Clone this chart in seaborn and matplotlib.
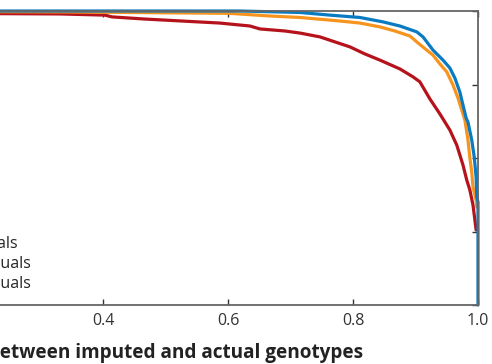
import pandas as pd
import matplotlib
matplotlib.use("Agg")
import matplotlib.pyplot as plt
import seaborn as sns

# curve data (x = r2 threshold, y = fraction)
red_x = [0.0, 0.10, 0.235, 0.331, 0.403, 0.414, 0.464, 0.587, 0.635, 0.651, 0.691, 0.715,
         0.747, 0.771, 0.795, 0.819, 0.843, 0.875, 0.896, 0.907, 0.923, 0.939, 0.955,
         0.966, 0.976, 0.982, 0.987, 0.992, 0.995, 0.997]
red_y = [0.995, 0.993, 0.991, 0.990, 0.986, 0.980, 0.973, 0.959, 0.949, 0.939, 0.932, 0.925,
         0.912, 0.895, 0.878, 0.854, 0.833, 0.803, 0.776, 0.759, 0.701, 0.650, 0.595,
         0.544, 0.476, 0.425, 0.391, 0.340, 0.289, 0.255]

orange_x = [0.0, 0.331, 0.603, 0.667, 0.715, 0.779, 0.811, 0.843, 0.867, 0.891, 0.902,
            0.918, 0.928, 0.939, 0.950, 0.960, 0.968, 0.974, 0.979, 0.984, 0.987, 0.990,
            0.992, 0.997, 0.998]
orange_y = [0.999, 0.997, 0.992, 0.983, 0.978, 0.966, 0.959, 0.946, 0.932, 0.915, 0.895,
            0.867, 0.850, 0.820, 0.793, 0.748, 0.704, 0.663, 0.629, 0.561, 0.500, 0.452,
            0.401, 0.357, 0.333]

blue_x = [0.0, 0.451, 0.619, 0.715, 0.763, 0.811, 0.848, 0.875, 0.902, 0.912, 0.928,
          0.944, 0.955, 0.963, 0.971, 0.976, 0.981, 0.984, 0.990, 0.994, 0.997, 0.998,
          1.0, 1.0]
blue_y = [1.0, 1.0, 1.0, 0.995, 0.986, 0.978, 0.963, 0.949, 0.929, 0.912, 0.867,
          0.833, 0.806, 0.772, 0.724, 0.680, 0.636, 0.622, 0.561, 0.503, 0.435, 0.367,
          0.350, 0.0]

labels = ["100 individuals", "1,000 individuals", "5,000 individuals"]
colors = ["#b5121b", "#f7941d", "#0a7bc1"]

df = pd.concat([
    pd.DataFrame({"x": red_x, "y": red_y, "group": labels[0]}),
    pd.DataFrame({"x": orange_x, "y": orange_y, "group": labels[1]}),
    pd.DataFrame({"x": blue_x, "y": blue_y, "group": labels[2]}),
])

sns.set_style("ticks")
plt.rcParams["font.family"] = ["Open Sans", "DejaVu Sans"]

fig = plt.figure(figsize=(4.92, 3.64), dpi=100)
ax = fig.add_axes([-147 / 492, 59 / 364, 625 / 492, 294 / 364])

sns.lineplot(data=df, x="x", y="y", hue="group", palette=colors, sort=False,
             estimator=None, linewidth=2.3, ax=ax, clip_on=False)

ax.set_xlim(0, 1)
ax.set_ylim(0, 1)
ax.set_xticks([0, 0.2, 0.4, 0.6, 0.8, 1.0])
ax.set_xticklabels(["0", "0.2", "0.4", "0.6", "0.8", "1.0"])
ax.set_yticks([0, 0.25, 0.5, 0.75, 1.0])
ax.tick_params(direction="in", length=4, width=1, colors="#333333", labelsize=11.5,
               top=True, right=True, pad=6)
for s in ax.spines.values():
    s.set_color("#666666")
    s.set_linewidth(1.3)
    s.set_visible(True)

ax.set_xlabel("r\u00b2 between imputed and actual genotypes", fontsize=13.7,
              fontweight="bold", color="#222222", labelpad=10)
ax.set_ylabel("")

ax.legend(loc="lower right", bbox_to_anchor=(0.297, 0.018), frameon=False,
          fontsize=11.5, borderpad=0, labelspacing=0.25, handlelength=2)

fig.savefig("out.png", dpi=100)
